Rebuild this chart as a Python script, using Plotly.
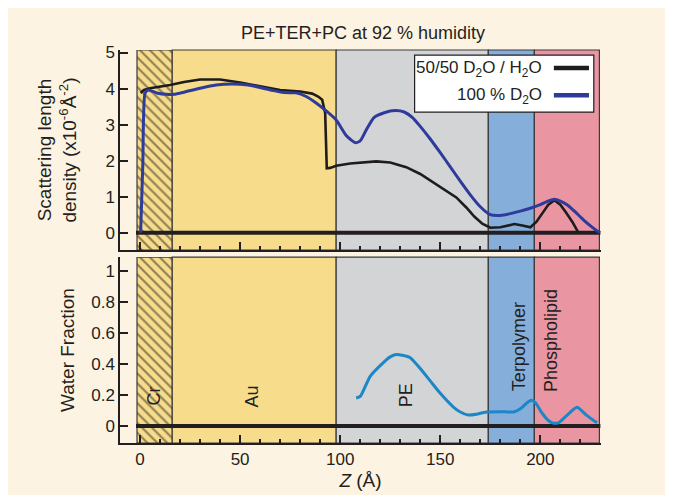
import plotly.graph_objects as go

# ---------------- data ----------------
z_black = [0.3, 2, 5, 10, 15, 22, 30, 40, 50, 60, 70, 80, 86, 89, 91, 92.5, 93.3, 95, 98, 105, 112,
           118, 125, 133, 140, 145, 152, 158, 163, 167, 171, 175, 180, 184, 187, 191, 195, 198,
           201, 204, 207, 210, 213, 216, 219]
sld_black = [3.88, 3.96, 4.01, 4.05, 4.10, 4.18, 4.25, 4.25, 4.17, 4.06, 3.96, 3.92, 3.86, 3.78,
             3.69, 3.32, 1.79, 1.80, 1.86, 1.92, 1.96, 1.98, 1.95, 1.82, 1.63, 1.45, 1.2, 0.98,
             0.7, 0.45, 0.25, 0.14, 0.15, 0.2, 0.24, 0.2, 0.15, 0.3, 0.55, 0.78, 0.9, 0.78, 0.55,
             0.3, 0.0]

z_blue = [0.3, 1.4, 2.5, 4, 6, 9, 13, 17, 22, 30, 38, 46, 54, 60, 66, 72, 78, 83, 88, 93, 98, 103,
          107.5, 110, 113, 117, 122, 127.5, 132, 136, 140, 145, 150, 155, 160, 165, 170, 175, 180,
          185, 190, 195, 200, 204, 207, 210, 213.5, 217, 221.5, 226, 229.7]
sld_blue = [0.0, 1.9, 3.87, 3.96, 3.93, 3.87, 3.84, 3.84, 3.9, 4.01, 4.1, 4.13, 4.1, 4.03, 3.95,
            3.89, 3.88, 3.78, 3.6, 3.38, 3.13, 2.7, 2.5, 2.55, 2.85, 3.2, 3.33, 3.39, 3.35, 3.2,
            2.95, 2.6, 2.22, 1.83, 1.43, 1.05, 0.72, 0.5, 0.48, 0.53, 0.6, 0.68, 0.78, 0.88, 0.93,
            0.88, 0.77, 0.6, 0.36, 0.15, 0.0]

z_water = [108, 110, 115, 121.7, 125, 128, 131, 135, 140, 145, 150, 156.7, 160, 164, 168, 173, 180,
           186.7, 190, 193, 195.5, 197.5, 201, 204, 206, 209, 213, 218.3, 223, 228.3]
water_frac = [0.18, 0.19, 0.32, 0.41, 0.445, 0.46, 0.455, 0.44, 0.37, 0.29, 0.21, 0.12, 0.09, 0.07,
              0.075, 0.09, 0.092, 0.09, 0.11, 0.145, 0.165, 0.15, 0.08, 0.035, 0.02, 0.02, 0.065,
              0.12, 0.07, 0.02]

baseline_z = [-2, 230]
baseline_v = [0, 0]

region_edges = [-1.5, 16, 98, 174, 197, 229.5]
region_names = ["Cr", "Au", "PE", "Terpolymer", "Phospholipid"]
region_colors = ["#F7DD8B", "#F7DD8B", "#D3D4D6", "#85AFDA", "#EA95A2"]
label_z = [7, 56, 133, 189, 205]
label_wf = [0.19, 0.19, 0.2, 0.51, 0.55]

x_ticks = [0, 50, 100, 150, 200]
sld_ticks = [0, 1, 2, 3, 4, 5]
wf_ticks = [0, 0.2, 0.4, 0.6, 0.8, 1]
wf_ticktext = ["0", "0.2", "0.4", "0.6", "0.8", "1"]

# ---------------- style ----------------
FONT = "Liberation Sans, Arial, sans-serif"
INK = "#231F20"
CREAM = "#FDF3E2"
X_RANGE = [-10, 230.3]
SLD_RANGE = [-0.48, 5.07]
WF_RANGE = [-0.11, 1.088]

fig = go.Figure()

# Hatched Cr region (bar with pattern) in both panels
for yax, rng in (("y2", SLD_RANGE), ("y", WF_RANGE)):
    fig.add_trace(go.Bar(
        x=[(region_edges[0] + region_edges[1]) / 2], y=[rng[1] - rng[0]], base=[rng[0]],
        width=[region_edges[1] - region_edges[0]],
        xaxis="x2" if yax == "y2" else "x", yaxis=yax,
        marker=dict(color=region_colors[0],
                    line=dict(color="#3A3A3A", width=1.2),
                    pattern=dict(shape="\\", fgcolor="#231F20", bgcolor=region_colors[0],
                                 size=7, solidity=0.3)),
        showlegend=False, hoverinfo="skip"))

# baselines
fig.add_trace(go.Scatter(x=baseline_z, y=baseline_v, xaxis="x2", yaxis="y2", mode="lines",
                         line=dict(color=INK, width=4), showlegend=False, hoverinfo="skip"))
fig.add_trace(go.Scatter(x=baseline_z, y=baseline_v, xaxis="x", yaxis="y", mode="lines",
                         line=dict(color=INK, width=4), showlegend=False, hoverinfo="skip"))

# SLD profiles
fig.add_trace(go.Scatter(x=z_black, y=sld_black, xaxis="x2", yaxis="y2", mode="lines",
                         line=dict(color="#1E1C1C", width=2.6), name="50/50 D2O / H2O",
                         showlegend=False))
fig.add_trace(go.Scatter(x=z_blue, y=sld_blue, xaxis="x2", yaxis="y2", mode="lines",
                         line=dict(color="#2E3B9B", width=3, shape="spline", smoothing=0.6),
                         name="100 % D2O", showlegend=False))
# water fraction
fig.add_trace(go.Scatter(x=z_water, y=water_frac, xaxis="x", yaxis="y", mode="lines",
                         line=dict(color="#1B86C8", width=3, shape="spline", smoothing=0.6),
                         name="Water fraction", showlegend=False))

shapes = []
for xr, yr in (("x2", "y2 domain"), ("x", "y domain")):
    for i in range(1, len(region_names)):
        shapes.append(dict(type="rect", xref=xr, yref=yr, x0=region_edges[i], x1=region_edges[i + 1],
                           y0=0, y1=1, fillcolor=region_colors[i],
                           line=dict(color="#3A3A3A", width=1.2), layer="below"))

# custom legend (box + samples)
shapes.append(dict(type="rect", xref="paper", yref="paper", x0=0.6125, x1=0.985, y0=0.842, y1=0.987,
                   fillcolor="white", line=dict(color=INK, width=1.2), layer="above"))
shapes.append(dict(type="line", xref="paper", yref="paper", x0=0.902, x1=0.975, y0=0.954, y1=0.954,
                   line=dict(color="#1E1C1C", width=4.5), layer="above"))
shapes.append(dict(type="line", xref="paper", yref="paper", x0=0.902, x1=0.975, y0=0.885, y1=0.885,
                   line=dict(color="#2E3B9B", width=4.5), layer="above"))

annotations = [
    dict(xref="paper", yref="paper", x=0.881, y=0.952, xanchor="right", yanchor="middle",
         text="50/50 D<sub>2</sub>O / H<sub>2</sub>O", showarrow=False,
         font=dict(family=FONT, size=17, color=INK)),
    dict(xref="paper", yref="paper", x=0.881, y=0.883, xanchor="right", yanchor="middle",
         text="100 % D<sub>2</sub>O", showarrow=False, font=dict(family=FONT, size=17, color=INK)),
]
for name, zx, wy in zip(region_names, label_z, label_wf):
    annotations.append(dict(x=zx, y=wy, xref="x", yref="y", text=name, textangle=-90,
                            showarrow=False, font=dict(family=FONT, size=18, color=INK)))

axis_common = dict(showline=True, linecolor=INK, linewidth=1.5, ticks="inside", tickcolor=INK,
                   tickwidth=1.5, ticklen=8, showgrid=False, zeroline=False, automargin=False,
                   tickfont=dict(family=FONT, size=17, color=INK))

fig.update_layout(
    width=673, height=495,
    margin=dict(l=112, r=80, t=42, b=60),
    paper_bgcolor=CREAM, plot_bgcolor=CREAM,
    font=dict(family=FONT, color=INK),
    title=dict(text="PE+TER+PC at 92 % humidity", x=0.5275, xanchor="center", y=0.9495,
               yanchor="middle", font=dict(family=FONT, size=18, color=INK)),
    barmode="overlay",
    xaxis=dict(domain=[0, 1], anchor="y", range=X_RANGE, tickvals=x_ticks,
               minor=dict(dtick=10, tick0=0, ticks="inside", ticklen=4, tickcolor=INK, tickwidth=1.5),
               title=dict(text="<i>Z</i> (Å)", font=dict(family=FONT, size=19, color=INK), standoff=6),
               **axis_common),
    xaxis2=dict(domain=[0, 1], anchor="y2", range=X_RANGE, tickvals=x_ticks, matches="x",
                showticklabels=False,
                minor=dict(dtick=10, tick0=0, ticks="inside", ticklen=4, tickcolor=INK, tickwidth=1.5),
                **axis_common),
    yaxis=dict(domain=[0, 0.473], anchor="x", range=WF_RANGE, tickvals=wf_ticks,
               ticktext=wf_ticktext,
               title=dict(text="Water Fraction", font=dict(family=FONT, size=19, color=INK), standoff=12),
               **axis_common),
    yaxis2=dict(domain=[0.491, 1], anchor="x2", range=SLD_RANGE, tickvals=sld_ticks,
                title=dict(text="Scattering length<br>density (x10<sup>-6</sup>Å<sup>-2</sup>)",
                           font=dict(family=FONT, size=19, color=INK), standoff=24),
                **axis_common),
    shapes=shapes, annotations=annotations,
)

fig.write_html("out.html")
